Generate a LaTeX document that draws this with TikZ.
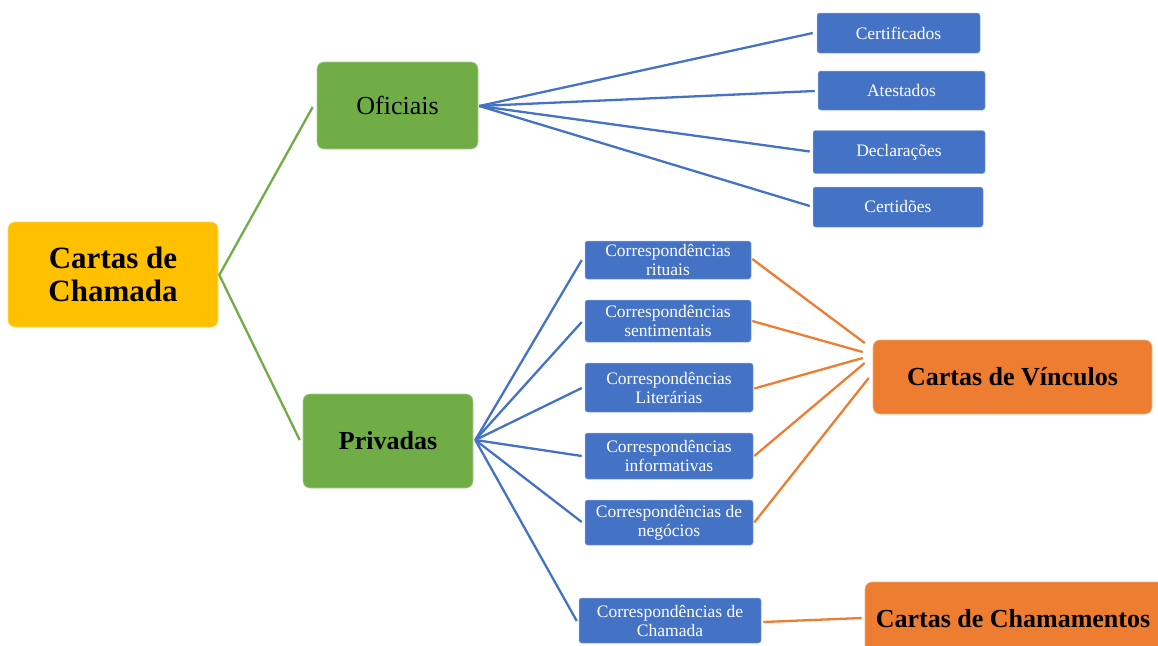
\documentclass[tikz,border=0pt]{standalone}
\usepackage{fontspec}
\setmainfont{Liberation Serif}
\usetikzlibrary{calc}
\definecolor{cgold}{HTML}{FFC000}
\definecolor{cgreen}{HTML}{70AD47}
\definecolor{cblue}{HTML}{4472C4}
\definecolor{corange}{HTML}{ED7D31}
\tikzset{
  bigbox/.style={fill=#1, draw=white!40!#1, line width=0.6pt, rounded corners=7pt, align=center, inner sep=0pt, text=black},
  smallbox/.style={fill=cblue, draw=white!40!cblue, line width=0.5pt, rounded corners=2.5pt, align=center, inner sep=0pt, text=white, font=\fontsize{17.5}{19}\selectfont},
  gline/.style={draw=cgreen, line width=2.3pt},
  bline/.style={draw=cblue, line width=2.3pt},
  oline/.style={draw=corange, line width=2.3pt},
}
\begin{document}
\begin{tikzpicture}[x=1pt,y=-1pt]
\useasboundingbox (0,0) rectangle (1158,645);
\clip (0,0) rectangle (1158,645);
% main nodes
\node[bigbox=cgold, minimum width=210pt, minimum height=105pt, font=\fontsize{31}{33}\selectfont\bfseries] (cc) at (113,274.5) {Cartas de\\Chamada};
\node[bigbox=cgreen, minimum width=161pt, minimum height=87pt, font=\fontsize{26}{28}\selectfont] (of) at (397.5,105.5) {Oficiais};
\node[bigbox=cgreen, minimum width=170pt, minimum height=94pt, font=\fontsize{26}{28}\selectfont\bfseries] (pr) at (388,441) {Privadas};
% oficiais children
\node[smallbox, minimum width=163pt, minimum height=40pt] (c1) at (898.5,33) {Certificados};
\node[smallbox, minimum width=167pt, minimum height=39pt] (c2) at (901.5,90.5) {Atestados};
\node[smallbox, minimum width=172pt, minimum height=43pt] (c3) at (899,152) {Declarações};
\node[smallbox, minimum width=170pt, minimum height=40pt] (c4) at (898,207) {Certidões};
% privadas children
\node[smallbox, minimum width=166pt, minimum height=38pt] (p1) at (668,260) {Correspondências\\rituais};
\node[smallbox, minimum width=166pt, minimum height=42pt] (p2) at (668,321) {Correspondências\\sentimentais};
\node[smallbox, minimum width=168pt, minimum height=49pt] (p3) at (669,387.5) {Correspondências\\Literárias};
\node[smallbox, minimum width=168pt, minimum height=46pt] (p4) at (669,456) {Correspondências\\informativas};
\node[smallbox, minimum width=168pt, minimum height=45pt] (p5) at (669,522.5) {Correspondências de\\negócios};
\node[smallbox, minimum width=182pt, minimum height=45pt] (p6) at (670,620.5) {Correspondências de\\Chamada};
% right nodes
\node[bigbox=corange, minimum width=279pt, minimum height=74pt, font=\fontsize{26}{28}\selectfont\bfseries] (cv) at (1012.5,377) {Cartas de Vínculos};
\node[bigbox=corange, minimum width=300pt, minimum height=74pt, font=\fontsize{26}{28}\selectfont\bfseries] (cm) at (1015,619) {\hspace*{-4pt}Cartas de Chamamentos};
% green connectors
\draw[gline] ([xshift=-4pt,yshift=-1.5pt]of.west) -- ([xshift=1pt,yshift=-0.5pt]cc.east) -- ([xshift=-3pt,yshift=1pt]pr.west);
% blue connectors from Oficiais
\foreach \n/\dx/\dy in {c1/-4/0, c2/-3/-0.5, c3/-3/0.5, c4/-3/1}{
  \draw[bline] ([xshift=1pt,yshift=-0.5pt]of.east) -- ([xshift=\dx pt,yshift=\dy pt]\n.west);
}
% blue connectors from Privadas
\foreach \n/\dx/\dy in {p1/-3/0, p2/-3/-1, p3/-3/-0.5, p4/-3/0, p5/-3/0.5, p6/-2/-0.5}{
  \draw[bline] ([xshift=2pt,yshift=1pt]pr.east) -- ([xshift=\dx pt,yshift=\dy pt]\n.west);
}
% orange connectors
\draw[oline] ([xshift=1pt,yshift=1pt]p1.east) -- ([xshift=-8pt,yshift=34pt]cv.west);
\draw[oline] ([xshift=1pt]p2.east) -- ([xshift=-10pt,yshift=25pt]cv.west);
\draw[oline] ([xshift=1pt,yshift=-1pt]p3.east) -- ([xshift=-10pt,yshift=19pt]cv.west);
\draw[oline] ([xshift=1pt]p4.east) -- ([xshift=-8pt,yshift=14pt]cv.west);
\draw[oline] ([xshift=1pt]p5.east) -- ([xshift=-4pt,yshift=-1pt]cv.west);
\draw[oline] ([xshift=2pt,yshift=-1.5pt]p6.east) -- ([xshift=-3pt,yshift=1pt]cm.west);
\end{tikzpicture}
\end{document}
